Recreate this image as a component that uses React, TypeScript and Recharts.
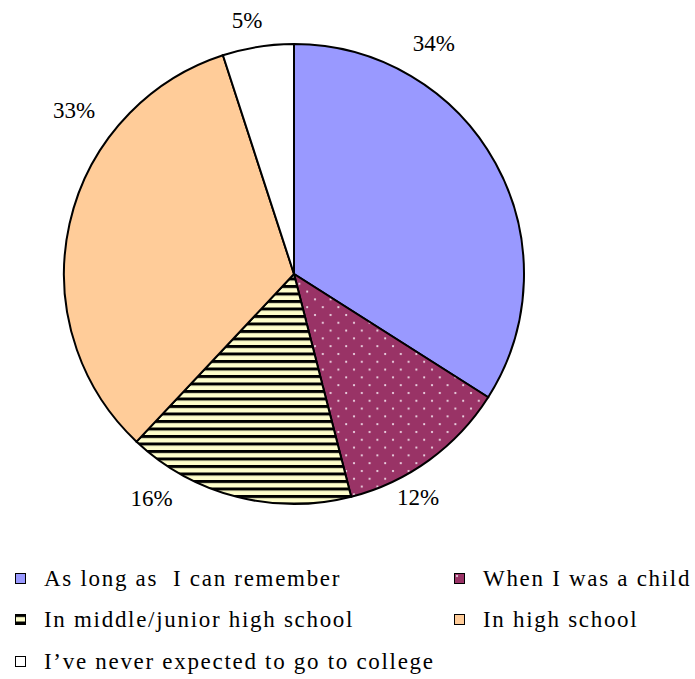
import { PieChart, Pie, Cell, Legend } from 'recharts';

// When students first expected to go to college (share of respondents, %)
const categories = [
  'As long as  I can remember',
  'When I was a child',
  'In middle/junior high school',
  'In high school',
  'I\u2019ve never expected to go to college',
];
const shares = [34, 12, 16, 33, 5];

const fills = ['#9999FF', 'url(#dots)', 'url(#stripes)', '#FFCC99', '#FFFFFF'];

// label placement tweaks (Excel-style "best fit" positions)
const labelAngleShift = [30, -7, -18, -24, 1.5];
const labelRadius = [270, 256, 266, 274, 258];

const data = categories.map((name, i) => ({ name, value: shares[i] }));

const font = 'Liberation Serif, Tinos, Times New Roman, Times, DejaVu Serif, serif';

const RADIAN = Math.PI / 180;

const renderLabel = (props: any) => {
  const { cx, cy, midAngle, index, value } = props;
  const a = (midAngle + labelAngleShift[index]) * RADIAN;
  const r = labelRadius[index];
  const x = cx + r * Math.cos(a);
  const y = cy - r * Math.sin(a);
  return (
    <text
      x={x}
      y={y}
      textAnchor="middle"
      dominantBaseline="central"
      style={{ fontFamily: font, fontSize: 23 }}
      fill="#000"
    >
      {`${value}%`}
    </text>
  );
};

// legend slots: [left of marker, top of marker]
const legendSlots = [
  [15, 13],
  [454, 13],
  [15, 54],
  [454, 54],
  [15, 96],
];

const renderLegend = () => (
  <div style={{ position: 'relative', width: 695, height: 119, fontFamily: font }}>
    {categories.map((name, i) => (
      <div
        key={name}
        style={{
          position: 'absolute',
          left: legendSlots[i][0],
          top: legendSlots[i][1] - 8,
          height: 27,
          display: 'flex',
          alignItems: 'center',
          whiteSpace: 'pre',
          fontFamily: font,
          fontSize: 23,
          letterSpacing: 1.7,
          color: '#000',
        }}
      >
        <svg width={11} height={11} style={{ marginRight: 18, flex: 'none' }}>
          <rect x={0.5} y={0.5} width={10} height={10} fill={fills[i]} stroke="#000" strokeWidth={1} />
        </svg>
        {name}
      </div>
    ))}
  </div>
);

export default function App() {
  return (
    <div style={{ position: 'absolute', left: 0, top: 0, width: 695, height: 679, background: '#fff', fontFamily: font }}>
      <PieChart width={695} height={679} margin={{ top: 0, right: 0, bottom: 0, left: 0 }}>
        <defs>
          <pattern id="stripes" patternUnits="userSpaceOnUse" width={8} height={7.5}>
            <rect x={0} y={0} width={8} height={7.5} fill="#FFFFCC" />
            <rect x={0} y={0} width={8} height={3} fill="#000" />
          </pattern>
          <pattern id="dots" patternUnits="userSpaceOnUse" width={15.6} height={15.6}>
            <rect x={0} y={0} width={15.6} height={15.6} fill="#993366" />
            <circle cx={3} cy={3} r={1.1} fill="#F4E4EE" />
            <circle cx={10.8} cy={10.8} r={1.1} fill="#F4E4EE" />
          </pattern>
        </defs>
        <Pie
          data={data}
          dataKey="value"
          nameKey="name"
          cx={294}
          cy={274}
          outerRadius={230}
          startAngle={90}
          endAngle={-270}
          stroke="#000"
          strokeWidth={2}
          label={renderLabel}
          labelLine={false}
          isAnimationActive={false}
        >
          {data.map((d, i) => (
            <Cell key={d.name} fill={fills[i]} />
          ))}
        </Pie>
        <Legend
          content={renderLegend}
          wrapperStyle={{ position: 'absolute', left: 0, top: 560, width: 695, height: 119 }}
        />
      </PieChart>
    </div>
  );
}
